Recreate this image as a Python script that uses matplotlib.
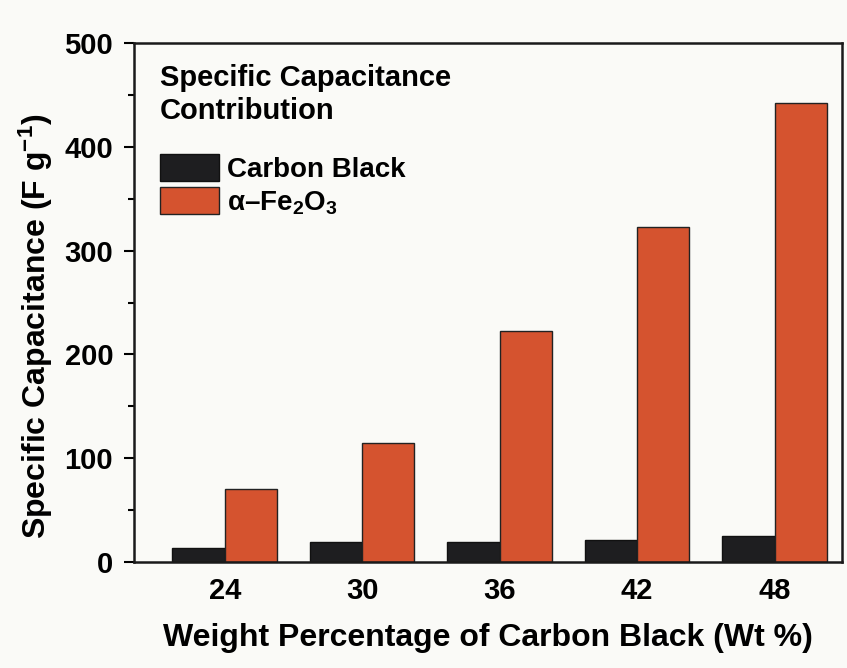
import matplotlib
matplotlib.use("Agg")
import matplotlib.pyplot as plt
import numpy as np
from matplotlib.ticker import MultipleLocator

# Capacitance contribution per component (F/g)
wt_percent = ["24", "30", "36", "42", "48"]
carbon_black = [13, 19, 19, 21, 25]
fe2o3 = [70, 115, 223, 323, 442]

plt.rcParams["font.family"] = ["Liberation Sans", "DejaVu Sans"]
plt.rcParams["font.weight"] = "bold"
plt.rcParams["mathtext.fontset"] = "custom"
plt.rcParams["mathtext.rm"] = "Liberation Sans:bold"
plt.rcParams["mathtext.it"] = "Liberation Sans:bold"
plt.rcParams["mathtext.default"] = "rm"

bg = "#fafaf7"
fig = plt.figure(figsize=(8.47, 6.68), dpi=100, facecolor=bg)
ax = fig.add_axes([0.1582, 0.1587, 0.9941 - 0.1582, 0.9356 - 0.1587])
ax.set_facecolor(bg)

x = np.arange(len(wt_percent))
w = 0.38
ax.bar(x - w / 2, carbon_black, w, color="#1e1e20", edgecolor="#111111",
       linewidth=1, label="Carbon Black")
ax.bar(x + w / 2, fe2o3, w, color="#d5532f", edgecolor="#222222",
       linewidth=1, label=r"α–Fe$_2$O$_3$")

ax.set_xlim(-0.66, 4.49)
ax.set_ylim(0, 500)
ax.set_xticks(x)
ax.set_xticklabels(wt_percent)
ax.yaxis.set_major_locator(MultipleLocator(100))
ax.yaxis.set_minor_locator(MultipleLocator(50))
ax.tick_params(axis="x", length=0, pad=11, labelsize=21)
ax.tick_params(axis="y", which="major", direction="out", length=7, width=1.5,
               pad=8, labelsize=21)
ax.tick_params(axis="y", which="minor", direction="out", length=4, width=1.5)
for s in ax.spines.values():
    s.set_linewidth(1.8)
    s.set_color("#1a1a1a")

ax.set_xlabel("Weight Percentage of Carbon Black (Wt %)", fontsize=23,
              fontweight="bold", labelpad=13)
ax.set_ylabel(r"Specific Capacitance (F g$^{-1}$)", fontsize=23,
              fontweight="bold")
ax.yaxis.set_label_coords(-0.111, 0.455)

# legend title drawn separately so the gap to the entries can be set
ax.text(0.037, 0.96, "Specific Capacitance\nContribution", transform=ax.transAxes,
        ha="left", va="top", fontsize=21, fontweight="bold", linespacing=1.25)
ax.legend(loc="upper left", bbox_to_anchor=(0.037, 0.787), frameon=False,
          fontsize=20, borderpad=0, borderaxespad=0, handlelength=2.1,
          handleheight=1.15, handletextpad=0.3, labelspacing=0.15)

fig.savefig("out.png", dpi=100, facecolor=bg)
